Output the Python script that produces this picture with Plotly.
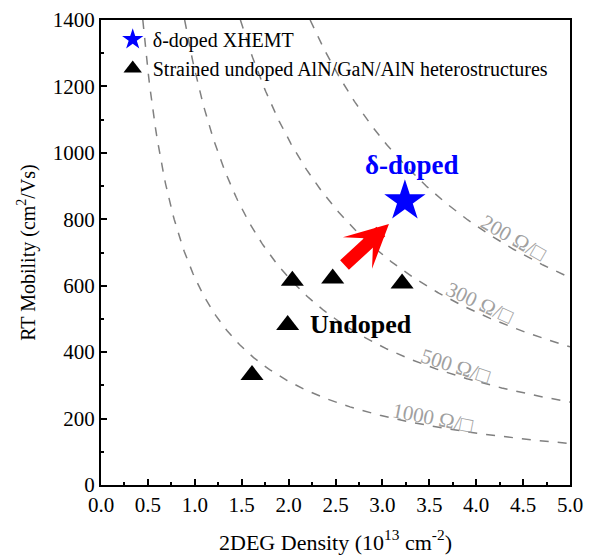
import numpy as np
import plotly.graph_objects as go

# Data
doped_n = [3.24]
doped_mu = [855]
undoped_n = [1.61, 1.99, 2.04, 2.47, 3.21]
undoped_mu = [331, 482, 615, 622, 607]
sheet_R = [200, 300, 500, 1000]          # Ohm/sq iso-resistance lines
label_n = [4.40, 4.04, 3.78, 3.54]
label_offset = [35, 33, 28, 26]
label_angle = [30, 25, 18, 11]
x_ticks = [0.0, 0.5, 1.0, 1.5, 2.0, 2.5, 3.0, 3.5, 4.0, 4.5, 5.0]
y_ticks = [0, 200, 400, 600, 800, 1000, 1200, 1400]

q = 1.602e-19
FONT = "Liberation Serif, Times New Roman, serif"

fig = go.Figure()

for R in sheet_R:
    C = 1.0 / (q * 1e13 * R)
    n = np.linspace(C / 1400.0, 5.0, 300)
    fig.add_trace(go.Scatter(x=n, y=C / n, mode="lines",
                             line=dict(color="#808080", width=1.5, dash="dash"),
                             showlegend=False, hoverinfo="skip"))

fig.add_trace(go.Scatter(x=doped_n, y=doped_mu, mode="markers", name="δ-doped XHEMT",
                         marker=dict(symbol="star", size=31, color="#0000ff")))
fig.add_trace(go.Scatter(x=undoped_n, y=undoped_mu, mode="markers",
                         name="Strained undoped AlN/GaN/AlN heterostructures",
                         marker=dict(symbol="triangle-up", size=20, color="black")))

for R, ln, off, ang in zip(sheet_R, label_n, label_offset, label_angle):
    C = 1.0 / (q * 1e13 * R)
    fig.add_annotation(x=ln, y=C / ln + off, text=f"{R} Ω/□", showarrow=False,
                       textangle=ang, font=dict(family=FONT, size=21, color="#a0a0a0"))

fig.add_annotation(x=3.07, y=786, ax=2.58, ay=658, xref="x", yref="y", axref="x", ayref="y",
                   text="", showarrow=True, arrowhead=3, arrowsize=0.55, arrowwidth=13,
                   arrowcolor="#ff0000")
fig.add_annotation(x=3.32, y=962, text="<b>δ-doped</b>", showarrow=False,
                   font=dict(family=FONT, size=27, color="#0000ff"))
fig.add_annotation(x=2.77, y=482, text="<b>Undoped</b>", showarrow=False,
                   font=dict(family=FONT, size=26, color="black"))

axis_common = dict(showline=True, linecolor="black", linewidth=2, mirror=True,
                   ticks="inside", ticklen=6, tickwidth=1.5, tickcolor="black",
                   showgrid=False, zeroline=False, automargin=False,
                   tickfont=dict(family=FONT, size=21, color="black"))

fig.update_xaxes(range=[0, 5], tickvals=x_ticks, ticktext=[f"{v:.1f}" for v in x_ticks],
                 minor=dict(dtick=0.25, ticks="inside", ticklen=3, tickcolor="black"),
                 title=dict(text="2DEG Density (10<sup>13</sup> cm<sup>-2</sup>)",
                            font=dict(family=FONT, size=22, color="black"), standoff=18),
                 **axis_common)
fig.update_yaxes(range=[0, 1400], tickvals=y_ticks,
                 minor=dict(dtick=100, ticks="inside", ticklen=3, tickcolor="black"),
                 title=dict(text="RT Mobility (cm<sup>2</sup>/Vs)",
                            font=dict(family=FONT, size=20, color="black"), standoff=12),
                 **axis_common)

fig.update_layout(width=595, height=559, plot_bgcolor="white", paper_bgcolor="white",
                  margin=dict(l=101, r=25, t=20, b=74),
                  legend=dict(x=0.025, y=1.0, xanchor="left", yanchor="top",
                              bgcolor="rgba(0,0,0,0)", tracegroupgap=0,
                              font=dict(family=FONT, size=20, color="black")))

fig.write_html("out.html")
